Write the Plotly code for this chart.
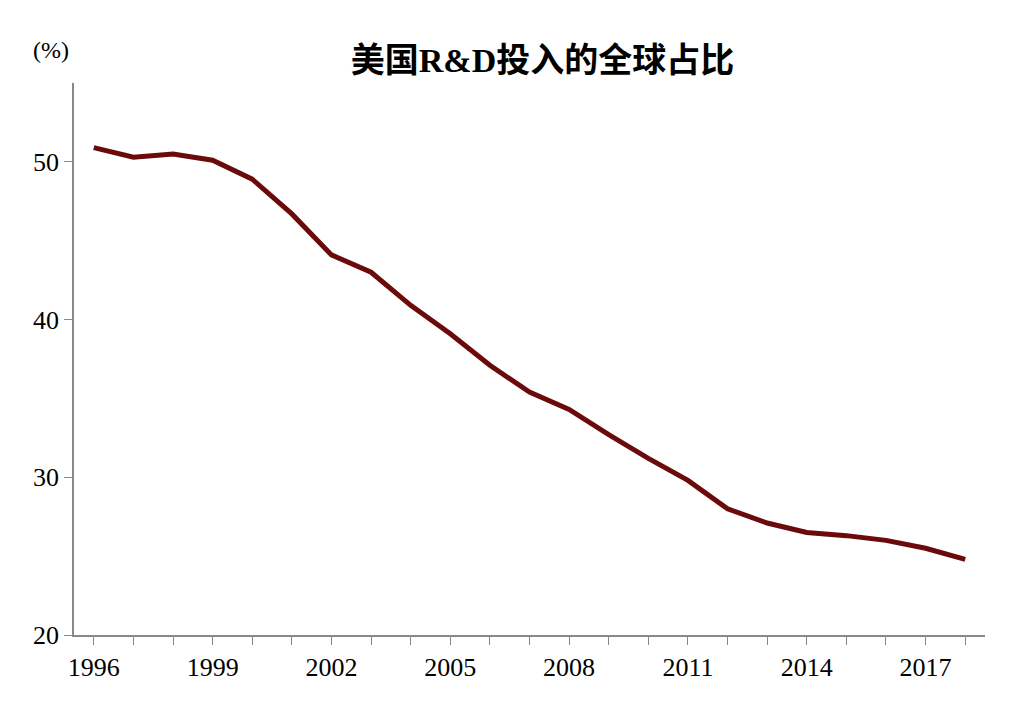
import plotly.graph_objects as go

# US share of global R&D spending (%)
years = list(range(1996, 2019))
share = [50.9, 50.3, 50.5, 50.1, 48.9, 46.7, 44.1, 43.0, 40.9, 39.1, 37.1, 35.4,
         34.3, 32.7, 31.2, 29.8, 28.0, 27.1, 26.5, 26.3, 26.0, 25.5, 24.8]
tick_years = list(range(1996, 2019))
tick_labels = [str(y) if (y - 1996) % 3 == 0 else "" for y in tick_years]

font = "Liberation Serif, Times New Roman, Noto Sans CJK SC"

fig = go.Figure(go.Scatter(x=years, y=share, mode="lines",
                           line=dict(color="#6b0a0a", width=5)))

fig.update_layout(
    width=1022, height=710,
    paper_bgcolor="white", plot_bgcolor="white",
    margin=dict(l=66, r=45, t=75, b=83, autoexpand=False),
    showlegend=False,
    font=dict(family=font, size=26, color="black"),
    title=dict(text="<b>美国R&D投入的全球占比</b>", x=0.523, y=0.927,
               xanchor="center", yanchor="middle", font=dict(family=font, size=34)),
    annotations=[dict(text="(%)", x=-0.025, y=1.06, xref="paper", yref="paper",
                      xanchor="center", yanchor="middle", showarrow=False,
                      font=dict(family=font, size=24))],
)
fig.update_xaxes(range=[1995.5, 2018.5], tickvals=tick_years, ticktext=tick_labels,
                 ticks="outside", ticklen=8, tickcolor="#888", showline=True,
                 linecolor="#888", linewidth=1.5, showgrid=False, zeroline=False,
                 automargin=False)
fig.update_yaxes(range=[20, 55], tickvals=[20, 30, 40, 50], ticks="outside",
                 ticklen=8, tickcolor="#888", showline=True, linecolor="#888",
                 linewidth=1.5, showgrid=False, zeroline=False, automargin=False)

fig.write_html("out.html")
